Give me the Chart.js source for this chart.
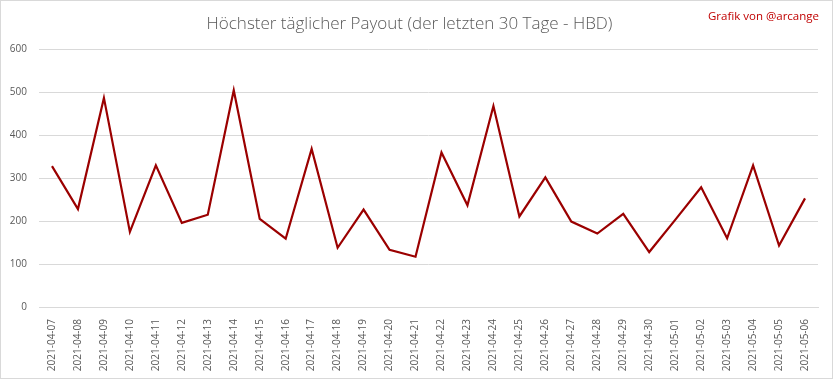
<!DOCTYPE html>
<html>
<head>
<meta charset="utf-8">
<script src="https://cdn.jsdelivr.net/npm/chart.js@4"></script>
<style>
  html, body { margin: 0; padding: 0; background: #fff; }
  #wrap { position: relative; width: 833px; height: 379px; box-sizing: border-box; border: 1px solid #d9d9d9; }
  #credit { position: absolute; right: 13px; top: 7px; font: 11.5px "Open Sans", sans-serif; color: #c00000; }
</style>
</head>
<body>
<div id="wrap">
  <canvas id="chart" width="831" height="377"></canvas>
  <div id="credit">Grafik von @arcange</div>
</div>
<script>
// Daten
const dates = [
    '2021-04-07', '2021-04-08', '2021-04-09', '2021-04-10', '2021-04-11', '2021-04-12',
    '2021-04-13', '2021-04-14', '2021-04-15', '2021-04-16', '2021-04-17', '2021-04-18',
    '2021-04-19', '2021-04-20', '2021-04-21', '2021-04-22', '2021-04-23', '2021-04-24',
    '2021-04-25', '2021-04-26', '2021-04-27', '2021-04-28', '2021-04-29', '2021-04-30',
    '2021-05-01', '2021-05-02', '2021-05-03', '2021-05-04', '2021-05-05', '2021-05-06'
];
const payout = [
    328, 228, 487, 175, 330, 196, 215, 505, 205, 159, 368, 138, 227, 133, 117,
    360, 237, 468, 211, 302, 199, 171, 217, 128, 203, 279, 160, 330, 143, 253
];
const yTicks = [0, 100, 200, 300, 400, 500, 600];

const ctx = document.getElementById('chart').getContext('2d');
new Chart(ctx, {
    type: 'line',
    data: {
        labels: dates,
        datasets: [{
            data: payout,
            borderColor: '#9b0000',
            borderWidth: 2.2,
            pointRadius: 0,
            tension: 0
        }]
    },
    options: {
        responsive: false,
        animation: false,
        layout: { padding: { top: 0, right: 14, left: 0, bottom: 0 } },
        plugins: {
            legend: { display: false },
            tooltip: { enabled: false },
            title: {
                display: true,
                text: 'Höchster täglicher Payout (der letzten 30 Tage - HBD)',
                color: '#595959',
                font: { family: 'Open Sans', size: 17, weight: '300' },
                padding: { top: 13, bottom: 15 }
            }
        },
        scales: {
            x: {
                offset: true,
                grid: { display: false },
                border: { color: '#d9d9d9' },
                ticks: {
                    color: '#595959',
                    font: { family: 'Open Sans', size: 10 },
                    maxRotation: 90,
                    minRotation: 90,
                    autoSkip: false,
                    padding: 4
                },
                afterFit: function(scale) { scale.height = 71; }
            },
            y: {
                min: 0,
                max: 600,
                afterBuildTicks: function(scale) {
                    scale.ticks = yTicks.map(v => ({ value: v }));
                },
                grid: { color: '#d9d9d9', drawTicks: false },
                border: { display: false },
                ticks: {
                    color: '#595959',
                    font: { family: 'Open Sans', size: 10 },
                    padding: 12
                },
                afterFit: function(scale) { scale.width = 38; }
            }
        }
    }
});
</script>
</body>
</html>
